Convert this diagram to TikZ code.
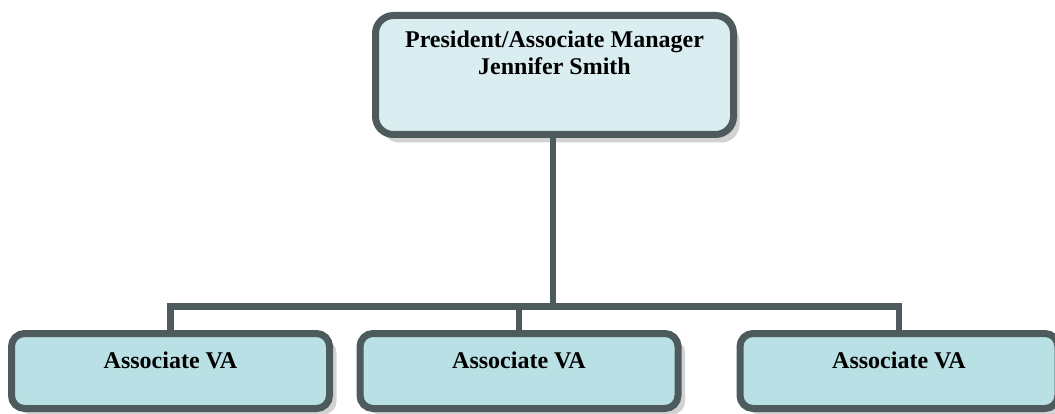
\documentclass[tikz,border=0pt]{standalone}
\usepackage{fontspec}
\setmainfont{Liberation Serif}
\usetikzlibrary{shadows, positioning}
\definecolor{edgegray}{HTML}{4D5B5C}
\definecolor{topfill}{HTML}{DAEEF1}
\definecolor{vafill}{HTML}{B9E0E4}
\begin{document}
\begin{tikzpicture}[x=1pt, y=-1pt,
      boss/.style={draw=edgegray, line width=7pt, fill=topfill, rounded corners=18pt,
        minimum width=358pt, minimum height=119pt, inner sep=0pt,
        drop shadow={shadow xshift=6pt, shadow yshift=-8pt, fill=gray!35, opacity=1}},
      va/.style={draw=edgegray, line width=7pt, fill=vafill, rounded corners=13pt,
        minimum width=318pt, minimum height=75pt, inner sep=0pt,
        drop shadow={shadow xshift=7pt, shadow yshift=-6pt, fill=gray!35, opacity=1}},
      lbl/.style={font=\fontsize{24}{27}\selectfont\bfseries, align=center, inner sep=0pt},
      link/.style={draw=edgegray, line width=6.5pt},
    ]
      \useasboundingbox (0,0) rectangle (1055,414);
      \node[boss] (ceo) at (554.5,75) {};
      \node[lbl, below=19pt] (ceolbl) at (ceo.north) {President/Associate Manager\\Jennifer Smith};
      \node[va] (va1) at (170.5,371) {};
      \node[va] (va2) at (519,371) {};
      \node[va] (va3) at (899,371) {};
      \foreach \n in {va1,va2,va3}
        \node[lbl, below=22pt] (\n lbl) at (\n.north) {Associate VA};
      \coordinate (bus) at (553,306.5);
      \draw[link] (ceo.south -| bus) -- (bus);
      \foreach \n in {va1,va2,va3}
        \draw[link] (bus) -| (\n.north);
    \end{tikzpicture}
\end{document}
